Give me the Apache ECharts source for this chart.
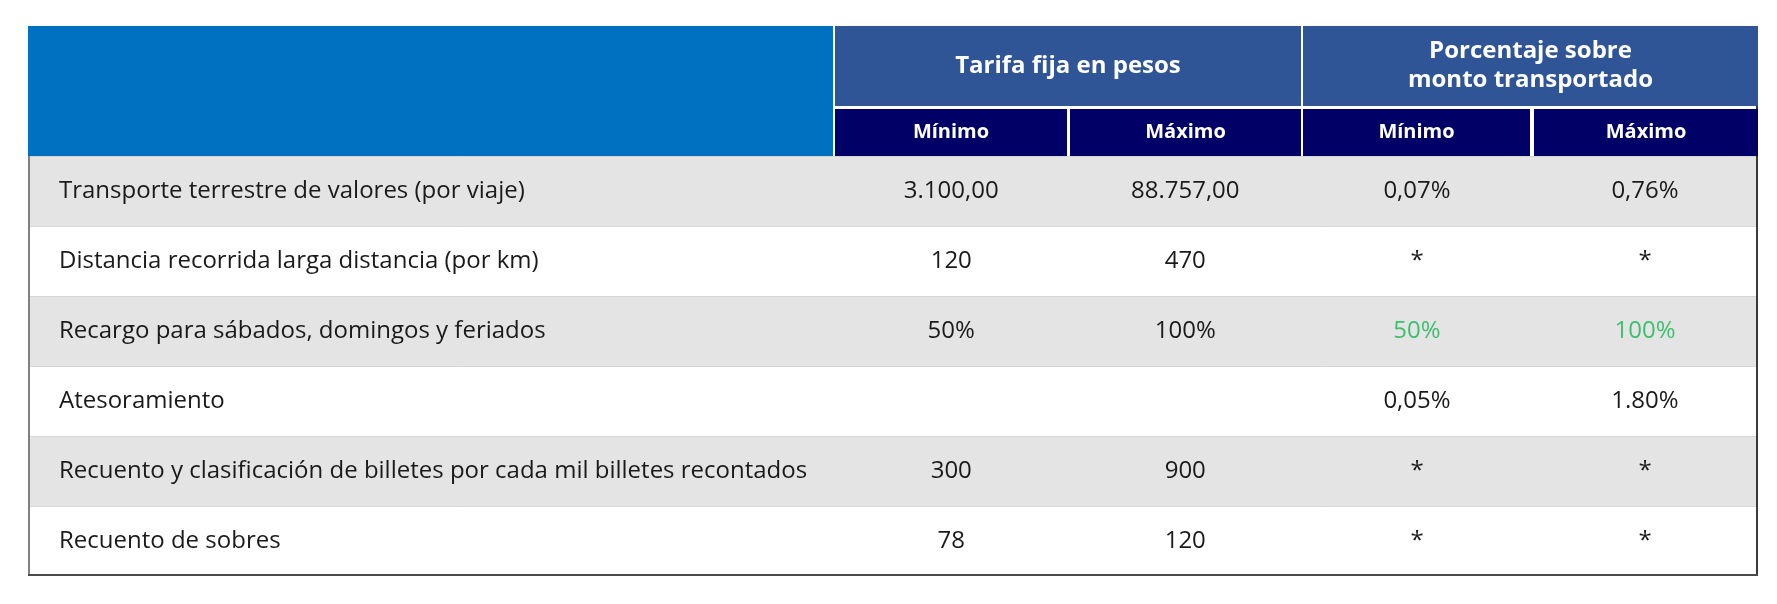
<!DOCTYPE html>
<html><head><meta charset="utf-8">
<script src="https://cdn.jsdelivr.net/npm/echarts@6/dist/echarts.min.js"></script>
<style>html,body{margin:0;padding:0;background:#fff}#c{width:1777px;height:604px}</style>
</head><body><div id="c"></div>
<script>
// ---- data ----
const groupHeaders = ['Tarifa fija en pesos', 'Porcentaje sobre\nmonto transportado'];
const subHeaders = ['Mínimo', 'Máximo', 'Mínimo', 'Máximo'];
const categories = [
  'Transporte terrestre de valores (por viaje)',
  'Distancia recorrida larga distancia (por km)',
  'Recargo para sábados, domingos y feriados',
  'Atesoramiento',
  'Recuento y clasificación de billetes por cada mil billetes recontados',
  'Recuento de sobres'
];
const tarifaMin = ['3.100,00', '120', '50%', '', '300', '78'];
const tarifaMax = ['88.757,00', '470', '100%', '', '900', '120'];
const pctMin = ['0,07%', '*', '50%', '0,05%', '*', '*'];
const pctMax = ['0,76%', '*', '100%', '1.80%', '*', '*'];
const greenRows = [2]; // rows whose percentage values are shown in green

// ---- layout (axis units) ----
const W = 1730, H = 550;
const colEdges = [0, 806, 1040.5, 1274, 1504, 1730];
const cornerW = 805;
const groupSpans = [[807, 1273], [1275, 1730]];
const subSpans = [[807, 1039], [1042, 1273], [1275, 1502], [1506, 1730]];
const groupH = 80, subTop = 83, headH = 130, rowH = 70, labelX = 31;
const C = {
  blue: '#0070C0', group: '#2F5597', navy: '#000066',
  gray: '#E4E4E4', white: '#FFFFFF', text: '#1A1A1A', green: '#3DBF6E',
  sep: '#D6D6D6', borderL: '#808080', borderR: '#3A3A3A'
};
const FONT = '"Open Sans", "Noto Sans", sans-serif';

// ---- build cell list ----
const cells = [];
const cols = [categories, tarifaMin, tarifaMax, pctMin, pctMax];
categories.forEach((_, r) => {
  cells.push({kind: 'row', r: r});
  cols.forEach((arr, c) => {
    if (arr[r] !== '') cells.push({kind: 'body', r: r, c: c, text: arr[r]});
  });
});
cells.push({kind: 'border'});
cells.push({kind: 'corner'});
groupHeaders.forEach((t, i) => cells.push({kind: 'group', i: i, text: t}));
subHeaders.forEach((t, i) => cells.push({kind: 'sub', i: i, text: t}));

function rectOf(api, x0, y0, x1, y1) {
  const p0 = api.coord([x0, y0]), p1 = api.coord([x1, y1]);
  return {x: Math.min(p0[0], p1[0]), y: Math.min(p0[1], p1[1]),
          width: Math.abs(p1[0] - p0[0]), height: Math.abs(p1[1] - p0[1])};
}

function renderItem(params, api) {
  const d = cells[params.dataIndex];
  if (d.kind === 'row') {
    const y0 = headH + d.r * rowH, y1 = y0 + rowH;
    const s = rectOf(api, 0, y0, W, y1);
    const lp = api.coord([0, y0]), rp = api.coord([W, y0]);
    return {type: 'group', children: [
      {type: 'rect', shape: s, style: {fill: d.r % 2 === 0 ? C.gray : C.white}},
      {type: 'line', shape: {x1: lp[0], y1: Math.round(lp[1]) + 0.5, x2: rp[0], y2: Math.round(rp[1]) + 0.5},
       style: {stroke: C.sep, lineWidth: 1}}
    ]};
  }
  if (d.kind === 'body') {
    const yc = headH + d.r * rowH + rowH / 2;
    let p, align;
    if (d.c === 0) { p = api.coord([labelX, yc]); align = 'left'; }
    else { p = api.coord([(colEdges[d.c] + colEdges[d.c + 1]) / 2, yc]); align = 'center'; }
    const green = d.c >= 3 && greenRows.indexOf(d.r) >= 0;
    return {type: 'text', style: {text: d.text, x: p[0], y: p[1], align: align, verticalAlign: 'middle',
      textAlign: align, textVerticalAlign: 'middle',
      font: '24px ' + FONT, fill: green ? C.green : C.text}};
  }
  if (d.kind === 'border') {
    const s = rectOf(api, 0, 0, W, H);
    const l = s.x + 1, r = s.x + s.width - 1, t = s.y, b = s.y + s.height - 1;
    return {type: 'group', children: [
      {type: 'line', shape: {x1: l, y1: t, x2: l, y2: b}, style: {stroke: C.borderL, lineWidth: 2}},
      {type: 'line', shape: {x1: r, y1: t, x2: r, y2: b + 1}, style: {stroke: C.borderR, lineWidth: 2}},
      {type: 'line', shape: {x1: l - 1, y1: b, x2: r + 1, y2: b}, style: {stroke: '#4A4A4A', lineWidth: 2}}
    ]};
  }
  if (d.kind === 'corner') {
    return {type: 'rect', shape: rectOf(api, 0, 0, cornerW, headH), style: {fill: C.blue}};
  }
  if (d.kind === 'group') {
    const sp = groupSpans[d.i];
    const s = rectOf(api, sp[0], 0, sp[1], groupH);
    const p = api.coord([(sp[0] + sp[1]) / 2, groupH / 2]);
    return {type: 'group', children: [
      {type: 'rect', shape: s, style: {fill: C.group}},
      {type: 'text', style: {text: d.text, x: p[0], y: p[1], align: 'center', verticalAlign: 'middle',
        textAlign: 'center', textVerticalAlign: 'middle', lineHeight: 29,
        font: 'bold 24px ' + FONT, fill: '#FFFFFF'}}
    ]};
  }
  if (d.kind === 'sub') {
    const sp = subSpans[d.i];
    const s = rectOf(api, sp[0], subTop, sp[1], headH);
    const p = api.coord([(sp[0] + sp[1]) / 2, (subTop + headH) / 2]);
    return {type: 'group', children: [
      {type: 'rect', shape: s, style: {fill: C.navy}},
      {type: 'text', style: {text: d.text, x: p[0], y: p[1], align: 'center', verticalAlign: 'middle',
        textAlign: 'center', textVerticalAlign: 'middle',
        font: 'bold 20px ' + FONT, fill: '#FFFFFF'}}
    ]};
  }
  return null;
}

const chart = echarts.init(document.getElementById('c'), null, {renderer: 'canvas'});
chart.setOption({
  animation: false,
  backgroundColor: '#FFFFFF',
  grid: {left: 28, top: 26, width: W, height: H, containLabel: false},
  xAxis: {type: 'value', min: 0, max: W, show: false},
  yAxis: {type: 'value', min: 0, max: H, inverse: true, show: false},
  series: [{
    type: 'custom',
    renderItem: renderItem,
    data: cells.map((d, i) => [i]),
    encode: {x: -1, y: -1},
    clip: false,
    silent: true
  }]
});
</script></body></html>
